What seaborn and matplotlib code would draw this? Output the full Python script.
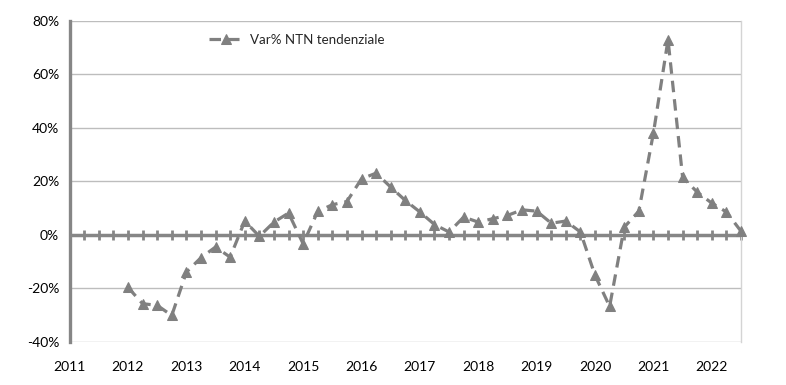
import matplotlib
matplotlib.use("Agg")
import matplotlib.pyplot as plt
import seaborn as sns
import pandas as pd
import numpy as np

# ---- data ----
years = list(range(2011, 2023))
quarters = [f"{y}Q{q}" for y in years for q in range(1, 5)][:47]  # 2011Q1 .. 2022Q3
series_quarters = quarters[4:]  # 2012Q1 .. 2022Q3
var_ntn = [
    -19.7, -25.8, -26.4, -30.2,    # 2012
    -14.0, -8.6, -4.6, -8.4,       # 2013
    5.1, -0.6, 4.7, 8.1,           # 2014
    -3.4, 8.7, 11.2, 12.4,         # 2015
    20.9, 23.0, 17.8, 12.8,        # 2016
    8.5, 3.8, 1.0, 6.6,            # 2017
    4.7, 6.0, 7.2, 9.3,            # 2018
    8.8, 4.3, 5.1, 1.0,            # 2019
    -15.2, -26.8, 2.8, 8.8,        # 2020
    38.0, 72.9, 21.5, 15.9,        # 2021
    11.8, 8.5, 1.3,                # 2022
]
series_name = "Var% NTN tendenziale"
y_ticks = [-40, -20, 0, 20, 40, 60, 80]

df = pd.DataFrame({
    "quarter": series_quarters,
    "pos": [quarters.index(q) for q in series_quarters],
    "value": var_ntn,
})

# ---- style ----
sns.set_style("white")
plt.rcParams["font.family"] = ["Lato", "DejaVu Sans"]
gray = "#808080"
axis_gray = "#868686"
grid_gray = "#BDBDBD"

fig = plt.figure(figsize=(7.86, 3.85), dpi=100)
ax = fig.add_axes([69.6 / 786, 1 - 341.7 / 385, (741.0 - 69.6) / 786, (341.7 - 20.7) / 385])

sns.lineplot(data=df, x="pos", y="value", ax=ax, color=gray, lw=2.3,
             marker="^", markersize=7.5, markeredgecolor=gray, markerfacecolor=gray,
             label=series_name, zorder=5)
ax.lines[0].set_dashes((3.6, 2.2))
ax.lines[0].set_clip_on(False)

ax.set_xlim(0, len(quarters) - 1)
ax.set_ylim(-40, 80)
ax.set_yticks(y_ticks)
ax.set_yticklabels([f"{v}%" for v in y_ticks], fontsize=10, color="black")
ax.set_xticks(range(0, len(quarters), 4))
ax.set_xticklabels([str(y) for y in years], fontsize=10, color="black")
ax.tick_params(axis="x", length=0, pad=14)
ax.tick_params(axis="y", length=3.5, width=1.5, color=axis_gray, pad=4, direction="out")
ax.set_xlabel("")
ax.set_ylabel("")

# gridlines
ax.grid(axis="y", color=grid_gray, lw=1.0)
ax.grid(axis="x", visible=False)
ax.set_axisbelow(True)

for side in ["top", "bottom"]:
    ax.spines[side].set_visible(False)
ax.spines["right"].set_color("#D4D4D4")
ax.spines["right"].set_linewidth(1.0)
ax.spines["left"].set_color(axis_gray)
ax.spines["left"].set_linewidth(2.4)

# horizontal axis crossing at zero with tick marks at every quarter
ax.axhline(0, color=axis_gray, lw=2.5, zorder=2)
sec = ax.secondary_xaxis(1 / 3)
sec.set_xticks(range(len(quarters)))
sec.tick_params(axis="x", which="both", direction="inout", length=7.5, width=2.0,
                color=axis_gray, labelbottom=False, labeltop=False)
for s in ["left", "right", "bottom", "top"]:
    sec.spines[s].set_visible(False)

leg = ax.legend(loc="center left", bbox_to_anchor=(0.19, 0.94), frameon=False,
                fontsize=9.6, handlelength=2.6, handletextpad=0.5)

fig.savefig("out.png", dpi=100)
